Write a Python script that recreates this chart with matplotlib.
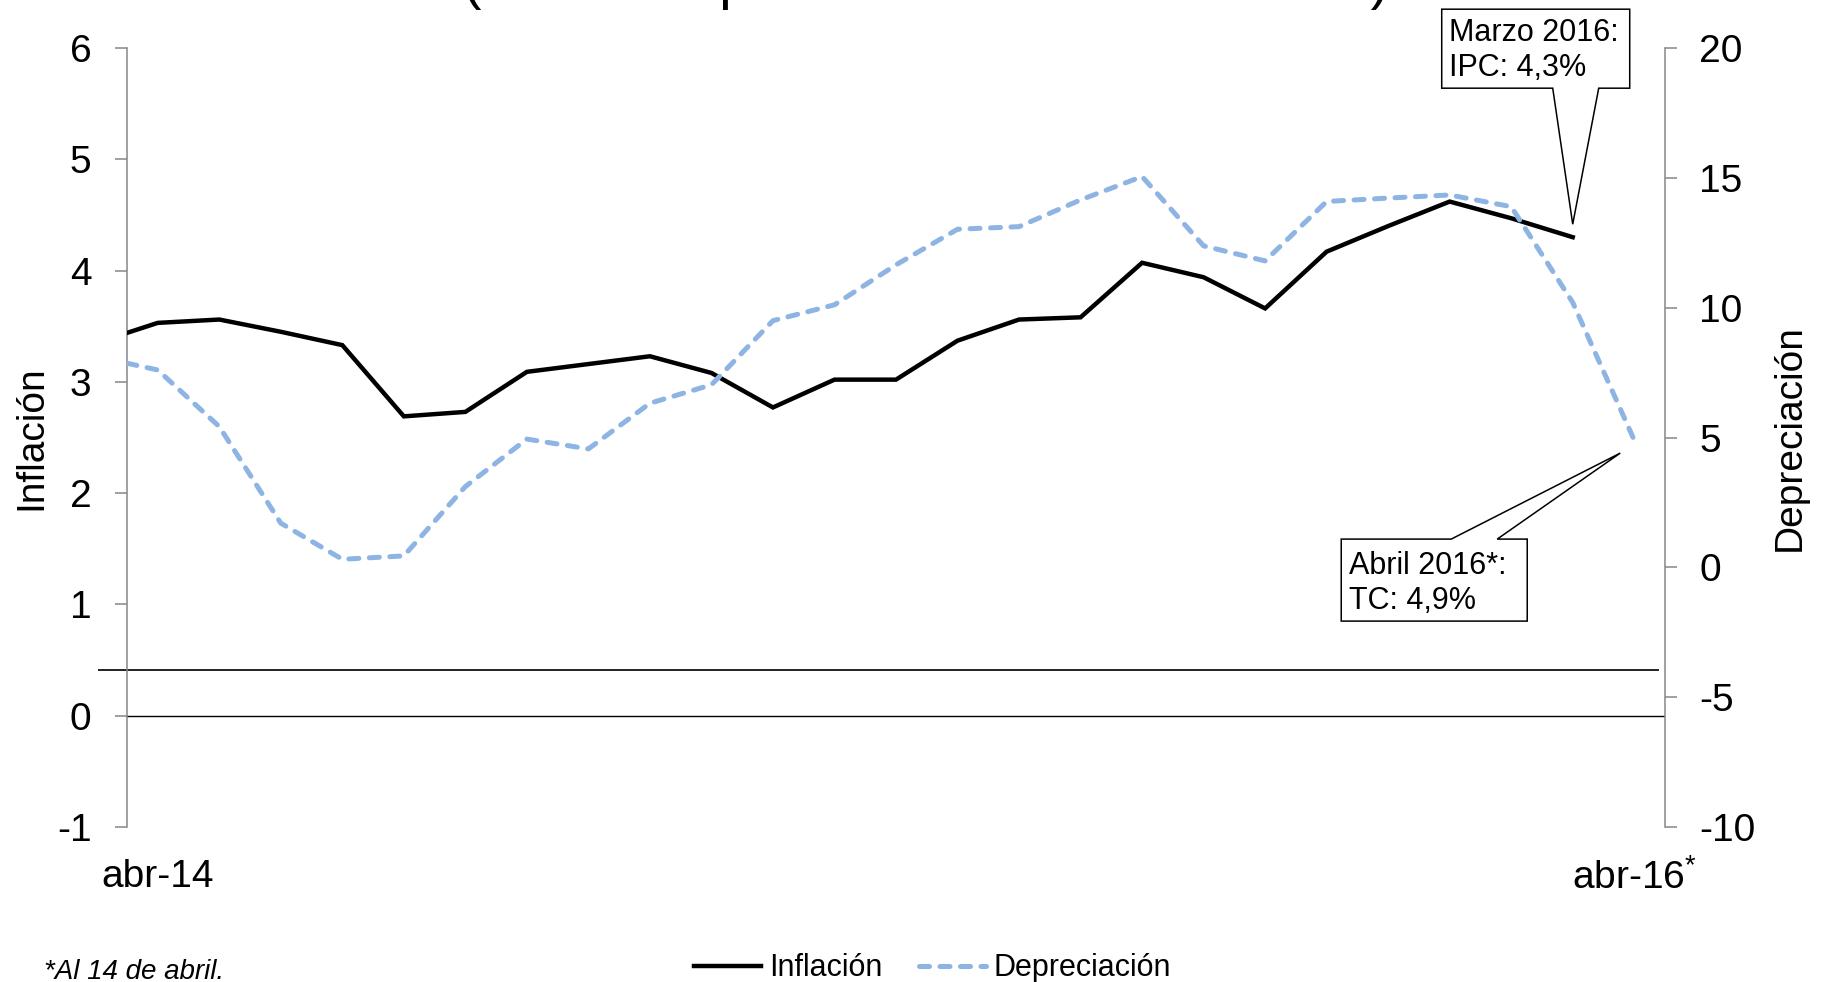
import numpy as np
import matplotlib.pyplot as plt
import matplotlib.transforms as mtransforms
from matplotlib.patches import Polygon
from matplotlib.lines import Line2D

plt.rcParams['font.family'] = ['Liberation Sans', 'DejaVu Sans']
plt.rcParams['mathtext.fontset'] = 'custom'
plt.rcParams['mathtext.rm'] = 'Liberation Sans'
plt.rcParams['axes.unicode_minus'] = False

DPI = 100

# Inflación (eje izquierdo) y depreciación (eje derecho), var. % doce meses
inflacion = [3.44, 3.53, 3.56, 3.45, 3.33, 2.69, 2.73, 3.09, 3.16, 3.23,
             3.08, 2.77, 3.02, 3.02, 3.37, 3.56, 3.58, 4.07, 3.94, 3.66,
             4.17, 4.40, 4.62, 4.47, 4.30]
depreciacion = [7.86, 7.60, 5.42, 1.70, 0.31, 0.44, 3.11, 4.94, 4.56, 6.32,
                7.03, 9.50, 10.11, 11.65, 13.02, 13.12, 14.15, 15.05, 12.38, 11.80,
                14.09, 14.22, 14.34, 13.89, 10.20, 4.90]
etiquetas_x = ['abr-14', 'abr-16$^{*}$']

# posiciones mensuales: primer dato al inicio del eje, luego a mitad de cada mes
x_inf = np.r_[0, np.arange(0.5, len(inflacion) - 1)]
x_dep = np.r_[0, np.arange(0.5, len(depreciacion) - 1)]

fig = plt.figure(figsize=(1822 / DPI, 982 / DPI), dpi=DPI)
ax = fig.add_axes([127 / 1822, 155 / 982, 1538 / 1822, 779 / 982])
ax2 = ax.twinx()

gris = '#868686'
azul = '#8EB4E3'

l1, = ax.plot(x_inf, inflacion, color='black', lw=3.2, solid_joinstyle='miter',
              label='Inflación', zorder=3)
l2, = ax2.plot(x_dep, depreciacion, color=azul, lw=3.6, dashes=(2.0, 2.1),
               dash_capstyle='round', label='Depreciación', zorder=3)

ax.set_xlim(0, 25)
ax.set_ylim(-1, 6)
ax2.set_ylim(-10, 20)
ax.set_yticks(range(-1, 7))
ax2.set_yticks(range(-10, 21, 5))
ax.set_xticks([x_dep[1], x_dep[-1]], etiquetas_x)

ax.axhline(0, color='black', lw=1.0, zorder=2)
# línea horizontal adicional que sobresale del eje izquierdo
ax.add_line(Line2D([-0.0182, 0.9954], [0.41, 0.41], color='#222222', lw=1.4,
                   transform=mtransforms.blended_transform_factory(ax.transAxes, ax.transData),
                   clip_on=False))

for a in (ax, ax2):
    for s in a.spines.values():
        s.set_visible(False)
ax.spines['left'].set_visible(True)
ax.spines['left'].set_color(gris)
ax.spines['left'].set_linewidth(1.1)
ax2.spines['right'].set_visible(True)
ax2.spines['right'].set_color(gris)
ax2.spines['right'].set_linewidth(1.1)

ax.tick_params(axis='y', length=8.6, width=1.1, color=gris, pad=17, labelsize=28)
ax2.tick_params(axis='y', length=8.6, width=1.1, color=gris, pad=16, labelsize=28)
ax.tick_params(axis='x', length=0, pad=23, labelsize=28)

ax.set_ylabel('Inflación', fontsize=28, ha='center', va='center')
ax.yaxis.set_label_coords(-0.0624, 0.5)
ax2.set_ylabel('Depreciación', fontsize=28, ha='center', va='center', rotation=90)
ax2.yaxis.set_label_coords(1.0813, 0.5)


def callout(eje, x, y, vertices, lineas, origen_texto):
    # recuadro con puntero; vértices en píxeles relativos al dato
    tr = fig.dpi_scale_trans + mtransforms.ScaledTranslation(x, y, eje.transData)
    pts = np.array(vertices, dtype=float) / DPI
    ax2.add_patch(Polygon(pts, closed=True, facecolor='white', edgecolor='black',
                          lw=1.1, transform=tr, clip_on=False, zorder=5))
    tx, ty = origen_texto
    for i, txt in enumerate(lineas):
        ax2.text(tx / DPI, (ty - 34.5 * i) / DPI, txt, transform=tr, fontsize=22,
                 ha='left', va='baseline', clip_on=False, zorder=6)


callout(ax, x_inf[-1], inflacion[-1],
        [(-131, 149), (-20, 149), (0, 13), (26, 149), (57, 149), (57, 228), (-131, 228)],
        ['Marzo 2016:', 'IPC: 4,3%'], (-124, 196))
callout(ax2, x_dep[-1], depreciacion[-1],
        [(-293, -181), (-107, -181), (-107, -99), (-137, -99), (-14, -13), (-183, -99), (-293, -99)],
        ['Abril 2016*:', 'TC: 4,9%'], (-285, -134))

fig.text(926 / 1822, 1 + 2 / 982, '(variación porcentual en doce meses)',
         ha='center', va='baseline', fontsize=40)

fig.legend(handles=[l1, l2], loc='center', bbox_to_anchor=(0.512, 0.014), ncol=2,
           frameon=False, fontsize=22, handlelength=2.18, handletextpad=0.26,
           columnspacing=1.22, borderpad=0)

fig.text(44 / 1822, 3 / 982, '*Al 14 de abril.', style='italic', fontsize=20,
         ha='left', va='baseline')

fig.savefig('out.png', dpi=DPI)
